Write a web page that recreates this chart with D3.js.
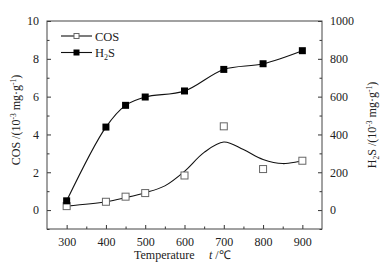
<!DOCTYPE html>
<html>
<head>
<meta charset="utf-8">
<script src="https://cdn.jsdelivr.net/npm/d3@7"></script>
<style>
  body { margin: 0; background: #fff; }
  svg { display: block; font-family: "Liberation Serif", "Times New Roman", serif; }
</style>
</head>
<body>
<svg id="chart" width="385" height="267"></svg>
<script>
const temps = [300, 400, 450, 500, 600, 700, 800, 900];
const cosVals = [0.21, 0.44, 0.71, 0.90, 1.83, 4.43, 2.17, 2.61];
const h2sVals = [49, 439, 554, 598, 630, 744, 774, 843];
// smooth fit curve drawn through the COS points
const cosFitT = [300, 400, 450, 500, 550, 600, 650, 700, 750, 800, 850, 900];
const cosFitV = [0.21, 0.44, 0.66, 0.92, 1.28, 2.05, 3.05, 3.6, 3.2, 2.68, 2.46, 2.61];
const xTicks = [300, 400, 500, 600, 700, 800, 900];
const yLeftTicks = [0, 2, 4, 6, 8, 10];
const yRightTicks = [0, 200, 400, 600, 800, 1000];

const W = 385, H = 267;
const margin = { top: 21, right: 63, bottom: 38, left: 47 };
const iw = W - margin.left - margin.right;
const ih = H - margin.top - margin.bottom;

const svg = d3.select("#chart");
const g = svg.append("g").attr("transform", `translate(${margin.left},${margin.top})`);

const x = d3.scaleLinear().domain([250, 950]).range([0, iw]);
const yL = d3.scaleLinear().domain([-1, 10]).range([ih, 0]);
const yR = d3.scaleLinear().domain([-100, 1000]).range([ih, 0]);

const tickFont = "12px";

// axes with inward ticks (major + minor)
function styleAxis(sel) {
    sel.select(".domain").remove();
    sel.selectAll("line").attr("stroke", "#333");
    sel.selectAll("text").attr("font-size", tickFont).attr("fill", "#222")
        .attr("font-family", "Liberation Serif");
}

const xMinor = d3.range(350, 950, 100);
g.append("g").attr("transform", `translate(0,${ih})`)
    .call(d3.axisBottom(x).tickValues(xTicks).tickSizeInner(-4).tickSizeOuter(0).tickPadding(8))
    .call(styleAxis);
g.append("g").attr("transform", `translate(0,${ih})`)
    .call(d3.axisBottom(x).tickValues(xMinor).tickSizeInner(-2.5).tickSizeOuter(0).tickFormat(""))
    .call(styleAxis);

g.append("g")
    .call(d3.axisLeft(yL).tickValues(yLeftTicks).tickSizeInner(-4).tickSizeOuter(0).tickPadding(8))
    .call(styleAxis);
g.append("g")
    .call(d3.axisLeft(yL).tickValues(d3.range(-1, 10, 2)).tickSizeInner(-2.5).tickSizeOuter(0).tickFormat(""))
    .call(styleAxis);

g.append("g").attr("transform", `translate(${iw},0)`)
    .call(d3.axisRight(yR).tickValues(yRightTicks).tickFormat(d3.format("d"))
        .tickSizeInner(-4).tickSizeOuter(0).tickPadding(8))
    .call(styleAxis);
g.append("g").attr("transform", `translate(${iw},0)`)
    .call(d3.axisRight(yR).tickValues(d3.range(-100, 1000, 200)).tickSizeInner(-2.5).tickSizeOuter(0).tickFormat(""))
    .call(styleAxis);

// frame
g.append("rect").attr("width", iw).attr("height", ih)
    .attr("fill", "none").attr("stroke", "#444").attr("stroke-width", 1);

// lines
const h2sLine = d3.line()
    .x((d, i) => x(temps[i]))
    .y(d => yR(d))
    .curve(d3.curveCatmullRom.alpha(0.5));
g.append("path").datum(h2sVals).attr("d", h2sLine)
    .attr("fill", "none").attr("stroke", "#111").attr("stroke-width", 1.1);

const cosLine = d3.line()
    .x((d, i) => x(cosFitT[i]))
    .y(d => yL(d))
    .curve(d3.curveCatmullRom.alpha(0.5));
g.append("path").datum(cosFitV).attr("d", cosLine)
    .attr("fill", "none").attr("stroke", "#111").attr("stroke-width", 1.1);

// markers
const ms = 7;
g.selectAll("rect.cos").data(cosVals).join("rect").attr("class", "cos")
    .attr("x", (d, i) => x(temps[i]) - ms / 2).attr("y", d => yL(d) - ms / 2)
    .attr("width", ms).attr("height", ms)
    .attr("fill", "#fff").attr("stroke", "#666").attr("stroke-width", 1);
g.selectAll("rect.h2s").data(h2sVals).join("rect").attr("class", "h2s")
    .attr("x", (d, i) => x(temps[i]) - ms / 2).attr("y", d => yR(d) - ms / 2)
    .attr("width", ms).attr("height", ms)
    .attr("fill", "#000");

// legend
const leg = svg.append("g").attr("transform", "translate(61,36)");
[["COS", false], ["H2S", true]].forEach(([name, filled], i) => {
    const row = leg.append("g").attr("transform", `translate(0,${i * 16.5})`);
    row.append("line").attr("x1", 0).attr("x2", 31).attr("stroke", "#111").attr("stroke-width", 1.1);
    const s = filled ? 6 : 5;
    row.append("rect").attr("x", 15.5 - s / 2).attr("y", -s / 2).attr("width", s).attr("height", s)
        .attr("fill", filled ? "#000" : "#fff").attr("stroke", filled ? "none" : "#666");
    const t = row.append("text").attr("x", 34).attr("y", 4.5).attr("font-size", "12.5px").attr("fill", "#222");
    if (filled) {
        t.append("tspan").text("H");
        t.append("tspan").text("2").attr("font-size", "8px").attr("dy", 3);
        t.append("tspan").text("S").attr("dy", -3);
    } else {
        t.text(name);
    }
});

// axis titles
function unitTspans(t) {
    t.append("tspan").text(" /(10");
    t.append("tspan").text("-3").attr("font-size", "7.5px").attr("dy", -4.5);
    t.append("tspan").text(" mg·g").attr("dy", 4.5);
    t.append("tspan").text("-1").attr("font-size", "7.5px").attr("dy", -4.5);
    t.append("tspan").text(")").attr("dy", 4.5);
}
const tl = svg.append("text").attr("transform", "translate(20,120) rotate(-90)")
    .attr("text-anchor", "middle").attr("font-size", "12px").attr("fill", "#222");
tl.append("tspan").text("COS");
unitTspans(tl);

const tr = svg.append("text").attr("transform", "translate(376,125) rotate(-90)")
    .attr("text-anchor", "middle").attr("font-size", "12px").attr("fill", "#222");
tr.append("tspan").text("H");
tr.append("tspan").text("2").attr("font-size", "7.5px").attr("dy", 3);
tr.append("tspan").text("S").attr("dy", -3);
unitTspans(tr);

const xt = svg.append("text").attr("x", 134).attr("y", 259)
    .attr("font-size", "12px").attr("fill", "#222");
xt.append("tspan").text("Temperature");
xt.append("tspan").text("t").attr("font-style", "italic").attr("x", 209);
xt.append("tspan").text(" /℃");
</script>
</body>
</html>
